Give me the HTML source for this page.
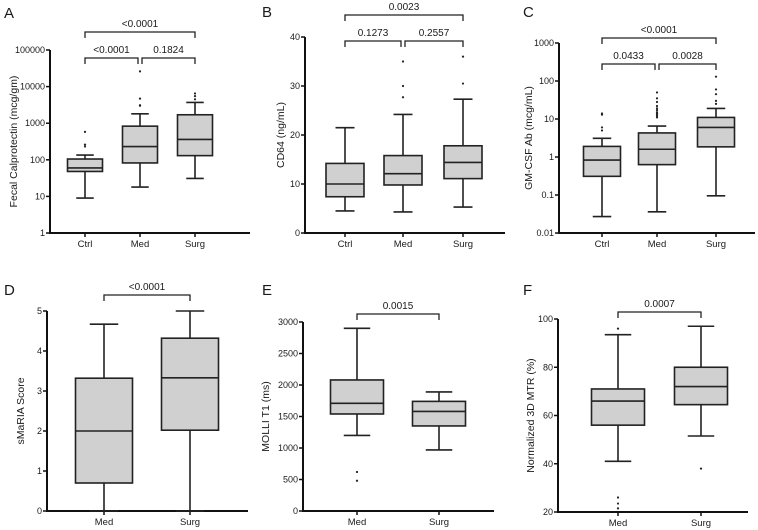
<!DOCTYPE html>
<html><head><meta charset="utf-8">
<style>
html,body{margin:0;padding:0;background:#fff;}
svg{display:block;font-family:"Liberation Sans",Arial,sans-serif;}
</style></head>
<body>
<svg id="fig" width="758" height="530" viewBox="0 0 758 530"></svg>
<script>
// ---- Data ----
const catsA = ["Ctrl","Med","Surg"];
const boxA = [[9,48,60,105,135],[18,82,230,830,1800],[31,130,360,1700,3700]];
const outA = [[230,260,580],[3000,3100,4700,26000],[4500,5500,6500]];
const ticksA = [1,10,100,1000,10000,100000];
const catsB = ["Ctrl","Med","Surg"];
const boxB = [[4.5,7.4,10,14.2,21.5],[4.3,9.8,12.1,15.8,24.2],[5.3,11.1,14.4,17.8,27.3]];
const outB = [[],[27.7,30,35],[30.5,36]];
const ticksB = [0,10,20,30,40];
const catsC = ["Ctrl","Med","Surg"];
const boxC = [[0.027,0.31,0.83,1.9,3.1],[0.036,0.63,1.6,4.3,6.5],[0.095,1.85,6,11,19]];
const outC = [[5,6,13,14],[11,12,13,14,15,17,19,22,28,35,50],[25,30,45,60,130]];
const ticksC = [0.01,0.1,1,10,100,1000];
const catsD = ["Med","Surg"];
const boxD = [[0,0.7,2,3.32,4.67],[0,2.02,3.33,4.32,5]];
const outD = [[],[]];
const ticksD = [0,1,2,3,4,5];
const catsE = ["Med","Surg"];
const boxE = [[1200,1540,1710,2080,2900],[970,1350,1580,1740,1890]];
const outE = [[480,620],[]];
const ticksE = [0,500,1000,1500,2000,2500,3000];
const catsF = ["Med","Surg"];
const boxF = [[41,56,66,71,93.5],[51.5,64.5,72,80,97]];
const outF = [[96,26,23.5,21.5],[38]];
const ticksF = [20,40,60,80,100];

const svg = document.getElementById('fig');
const NS = 'http://www.w3.org/2000/svg';
function mk(tag, attrs, parent){
  const e = document.createElementNS(NS, tag);
  for (const k in attrs) e.setAttribute(k, attrs[k]);
  (parent||svg).appendChild(e);
  return e;
}
function txt(s, x, y, size, anchor, parent, rot){
  const t = mk('text', {x:x, y:y, 'font-size':size, 'text-anchor':anchor||'middle', fill:'#1a1a1a'}, parent);
  if (rot) t.setAttribute('transform', 'rotate(-90 '+x+' '+y+')');
  t.textContent = s;
  return t;
}

function panel(p){
  const g = mk('g', {});
  
  
  const lo = p.log ? Math.log10(p.ymin) : p.ymin, hi = p.log ? Math.log10(p.ymax) : p.ymax;
  const Y = v => { const t = p.log ? Math.log10(v) : v; return p.y0 - (t-lo)/(hi-lo)*(p.y0-p.y1); };
  const X = i => p.xc[i];
  const L = txt(p.letter, p.lx, p.ly, 15, 'start', g);
  
  
  const T = txt(p.title, p.tx, (p.y0+p.y1)/2, 10.5, 'middle', g, true);
  
  
  const ya = mk('line', {x1:p.x0, y1:p.y0+1, x2:p.x0, y2:p.y1, stroke:'#111', 'stroke-width':2}, g);
  
  
  const xa = mk('line', {x1:p.x0-1, y1:p.y0, x2:p.xend, y2:p.y0, stroke:'#111', 'stroke-width':2}, g);
  
  
  p.ticks.forEach(v => {
    const y = Y(v);
    mk('line', {x1:p.x0-4, y1:y, x2:p.x0, y2:y, stroke:'#111', 'stroke-width':1.5}, g);
    const tl = txt(String(v), p.x0-5, y+3, 9, 'end', g);
    
    
  });
  p.cats.forEach((c, i) => {
    const x = X(i);
    mk('line', {x1:x, y1:p.y0, x2:x, y2:p.y0+4, stroke:'#111', 'stroke-width':1.5}, g);
    const cl = txt(c, x, p.y0+14, 9.5, 'middle', g);
    
    
    const b = p.box[i], w = p.bw, hw = w/2;
    const bg = mk('g', {stroke:'#222', 'stroke-width':1.6, fill:'none'}, g);
    
    
    mk('line', {x1:x, y1:Y(b[0]), x2:x, y2:Y(b[1])}, bg);
    mk('line', {x1:x, y1:Y(b[3]), x2:x, y2:Y(b[4])}, bg);
    mk('line', {x1:x-w/4, y1:Y(b[0]), x2:x+w/4, y2:Y(b[0])}, bg);
    mk('line', {x1:x-w/4, y1:Y(b[4]), x2:x+w/4, y2:Y(b[4])}, bg);
    mk('rect', {x:x-hw, y:Y(b[3]), width:w, height:Y(b[1])-Y(b[3]), fill:'#d0d0d0'}, bg);
    mk('line', {x1:x-hw, y1:Y(b[2]), x2:x+hw, y2:Y(b[2])}, bg);
    p.out[i].forEach(v => {
      const d = mk('circle', {cx:x, cy:Y(v), r:1.1, fill:'#222', stroke:'none'}, g);
      
      
    });
  });
  p.brackets.forEach(br => {
    const x1 = X(br[0]) + (br[3]||0), x2 = X(br[1]) - (br[4]||0), y = br[2];
    const bk = mk('path', {d:'M'+x1+' '+(y+6)+'V'+y+'H'+x2+'V'+(y+6), stroke:'#222', 'stroke-width':1.3, fill:'none'}, g);
    
    
    const pl = txt(br[5], (x1+x2)/2, y-5, 10, 'middle', g);
    
    
  });
}

panel({letter:'A', lx:4, ly:18, title:'Fecal Calprotectin (mcg/gm)', tx:17, x0:50, xend:250, y0:233, y1:50, log:true, ymin:1, ymax:100000,
  ticks:ticksA, cats:catsA, box:boxA, out:outA, xc:[85,140,195], bw:35,
  brackets:[[0,2,32,0,0,'<0.0001'],[0,1,58,0,2,'<0.0001'],[1,2,58,2,0,'0.1824']]});
panel({letter:'B', lx:262, ly:17, title:'CD64 (ng/mL)', tx:284, x0:305, xend:505, y0:233, y1:37, log:false, ymin:0, ymax:40,
  ticks:ticksB, cats:catsB, box:boxB, out:outB, xc:[345,403,463], bw:38,
  brackets:[[0,2,15,0,0,'0.0023'],[0,1,41,0,2,'0.1273'],[1,2,41,2,0,'0.2557']]});
panel({letter:'C', lx:523, ly:17, title:'GM-CSF Ab (mcg/mL)', tx:532, x0:559, xend:755, y0:233, y1:43, log:true, ymin:0.01, ymax:1000,
  ticks:ticksC, cats:catsC, box:boxC, out:outC, xc:[602,657,716], bw:37,
  brackets:[[0,2,38,0,0,'<0.0001'],[0,1,64,0,2,'0.0433'],[1,2,64,2,0,'0.0028']]});
panel({letter:'D', lx:4, ly:295, title:'sMaRIA Score', tx:24, x0:47, xend:248, y0:511, y1:311, log:false, ymin:0, ymax:5,
  ticks:ticksD, cats:catsD, box:boxD, out:outD, xc:[104,190], bw:57,
  brackets:[[0,1,295,0,0,'<0.0001']]});
panel({letter:'E', lx:262, ly:295, title:'MOLLI T1 (ms)', tx:269, x0:303, xend:494, y0:511, y1:322, log:false, ymin:0, ymax:3000,
  ticks:ticksE, cats:catsE, box:boxE, out:outE, xc:[357,439], bw:53,
  brackets:[[0,1,314,0,0,'0.0015']]});
panel({letter:'F', lx:523, ly:295, title:'Normalized 3D MTR (%)', tx:534, x0:558, xend:748, y0:512, y1:319, log:false, ymin:20, ymax:100,
  ticks:ticksF, cats:catsF, box:boxF, out:outF, xc:[618,701], bw:53,
  brackets:[[0,1,312,0,0,'0.0007']]});
</script>
</body></html>
